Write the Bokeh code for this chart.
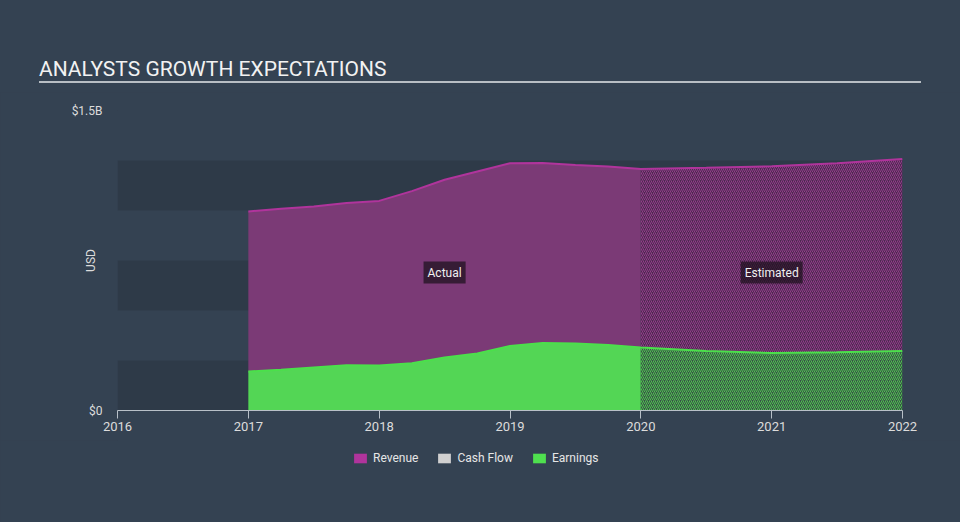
import math
from bokeh.plotting import figure
from bokeh.layouts import column
from bokeh.models import Legend, LegendItem, FixedTicker, Range1d, Label, Div
from bokeh.embed import file_html
from bokeh.resources import INLINE

# ---------------- data (USD billions) ----------------
actual_dates = [2017.0, 2017.25, 2017.5, 2017.75, 2018.0, 2018.25, 2018.5,
                2018.75, 2019.0, 2019.25, 2019.5, 2019.75, 2020.0]
revenue_actual = [0.995, 1.009, 1.020, 1.038, 1.048, 1.097, 1.154,
                  1.195, 1.236, 1.238, 1.228, 1.220, 1.208]
earnings_actual = [0.195, 0.204, 0.215, 0.226, 0.225, 0.236, 0.265,
                   0.285, 0.322, 0.337, 0.335, 0.327, 0.315]

est_dates = [2020.0, 2020.5, 2021.0, 2021.5, 2022.0]
revenue_est = [1.208, 1.214, 1.221, 1.236, 1.257]
earnings_est = [0.315, 0.297, 0.287, 0.291, 0.297]

year_ticks = [2016, 2017, 2018, 2019, 2020, 2021, 2022]
y_ticks = [0, 1.5]
y_tick_labels = {0: "$0", 1.5: "$1.5B"}
band_bottoms = [0.0, 0.5, 1.0]
band_tops = [0.25, 0.75, 1.25]
series_names = ["Revenue", "Cash Flow", "Earnings"]
series_colors = ["#b0349c", "#d0d0d0", "#4fe04f"]
title_text = "ANALYSTS GROWTH EXPECTATIONS"

BG = "#344252"
FONT = "Roboto"
W = 960

# ---------------- title strip ----------------
TH = 92
title_div = Div(
    width=W, height=TH,
    text=('<div style="position:relative;width:960px;height:92px;margin:0;padding:0;">'
          '<div style="position:absolute;left:39px;top:57px;width:882px;'
          'font-family:Roboto;font-size:21px;line-height:24px;color:#f2f2f2;'
          'border-bottom:2px solid #b8bec4;white-space:nowrap;">'
          + title_text + '</div></div>'),
    styles={"margin": "0", "padding": "0", "background-color": BG})

# ---------------- main chart ----------------
MH = 348
p = figure(width=W, height=MH, output_backend="svg", toolbar_location=None,
           x_range=Range1d(year_ticks[0], year_ticks[-1]), y_range=Range1d(0, 1.5),
           min_border_left=117, min_border_right=58, min_border_top=18,
           min_border_bottom=30)
p.background_fill_color = BG
p.border_fill_color = BG
p.outline_line_color = None
p.xgrid.visible = False
p.ygrid.visible = False

# background bands
p.quad(left=[year_ticks[0]] * len(band_bottoms), right=[year_ticks[-1]] * len(band_bottoms),
       bottom=band_bottoms, top=band_tops, fill_color="#2e3a48", line_color=None)

# actual areas
p.varea(x=actual_dates, y1=earnings_actual, y2=revenue_actual,
        fill_color="#7b3a76", fill_alpha=1.0)
p.varea(x=actual_dates, y1=[0] * len(actual_dates), y2=earnings_actual,
        fill_color="#53d655", fill_alpha=1.0)

# estimated (hatched) areas
p.varea(x=est_dates, y1=earnings_est, y2=revenue_est,
        fill_color="#4c2a50", fill_alpha=1.0,
        hatch_pattern="/", hatch_color="#933c8a", hatch_alpha=1.0,
        hatch_scale=4, hatch_weight=1.0)
p.varea(x=est_dates, y1=[0] * len(est_dates), y2=earnings_est,
        fill_color="#385248", fill_alpha=1.0,
        hatch_pattern="/", hatch_color="#4fc44f", hatch_alpha=1.0,
        hatch_scale=4, hatch_weight=1.0)

# top lines
p.line(x=actual_dates + est_dates[1:], y=revenue_actual + revenue_est[1:],
       line_color="#b0349c", line_width=2)
p.line(x=actual_dates + est_dates[1:], y=earnings_actual + earnings_est[1:],
       line_color="#4be04b", line_width=2)

# axes
xa = p.xaxis[0]
xa.ticker = FixedTicker(ticks=year_ticks)
xa.axis_line_color = "#b8c0c8"
xa.major_tick_line_color = "#b8c0c8"
xa.major_tick_out = 8
xa.major_tick_in = 0
xa.minor_tick_line_color = None
xa.major_label_text_font = FONT
xa.major_label_text_font_size = "13px"
xa.major_label_text_color = "#dcdcdc"
xa.major_label_standoff = 3

ya = p.yaxis[0]
ya.ticker = FixedTicker(ticks=y_ticks)
ya.major_label_overrides = y_tick_labels
ya.axis_line_color = None
ya.major_tick_line_color = None
ya.minor_tick_line_color = None
ya.major_tick_out = 0
ya.major_label_text_font = FONT
ya.major_label_text_font_size = "12px"
ya.major_label_text_color = "#dcdcdc"
ya.major_label_standoff = 15
ya.axis_label = "USD"
ya.axis_label_text_font = FONT
ya.axis_label_text_font_size = "12px"
ya.axis_label_text_font_style = "normal"
ya.axis_label_text_color = "#dcdcdc"
ya.axis_label_standoff = -29

# Actual / Estimated tags
for tx, ty, tt in [(2018.5, 0.69, "Actual"), (2021.0, 0.69, "Estimated")]:
    p.add_layout(Label(x=tx, y=ty, text=tt, text_align="center", text_baseline="middle",
                       text_font=FONT, text_font_size="12px", text_color="#f0f0f0",
                       background_fill_color="#1a0f1a", background_fill_alpha=0.7,
                       padding=4))

# ---------------- legend strip ----------------
LH = 522 - TH - MH
pl = figure(width=W, height=LH, output_backend="svg", toolbar_location=None,
            x_range=Range1d(0, 1), y_range=Range1d(0, 1), min_border=0)
pl.background_fill_color = BG
pl.border_fill_color = BG
pl.outline_line_color = None
pl.xaxis.visible = False
pl.yaxis.visible = False
pl.xgrid.visible = False
pl.ygrid.visible = False
nan = float("nan")
items = []
for name, col in zip(series_names, series_colors):
    r = pl.quad(left=[nan], right=[nan], bottom=[nan], top=[nan],
                fill_color=col, line_color=None)
    items.append(LegendItem(label=name, renderers=[r]))
legend = Legend(items=items, orientation="horizontal", location=(235, 57),
                glyph_width=16, glyph_height=12, label_standoff=5, spacing=18,
                padding=0, margin=0, border_line_color=None,
                background_fill_alpha=0, label_text_font=FONT,
                label_text_font_size="12px", label_text_color="#e6e6e6")
pl.add_layout(legend, "center")

layout = column(title_div, p, pl, spacing=0)
layout.styles = {"background-color": BG}
open("out.html", "w").write(file_html(layout, INLINE))
